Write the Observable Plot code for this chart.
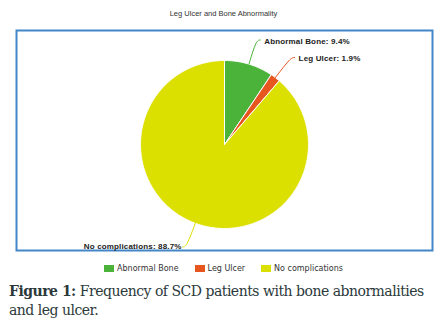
<!DOCTYPE html>
<html>
<head>
<meta charset="utf-8">
<script src="https://cdn.jsdelivr.net/npm/d3@7"></script>
<script src="https://cdn.jsdelivr.net/npm/@observablehq/plot@0.6"></script>
<style>
  html, body { margin: 0; padding: 0; background: #fff; }
  body { width: 447px; height: 323px; overflow: hidden; position: relative; font-family: "Liberation Sans", Arial, sans-serif; }
  #title { position: absolute; top: 9px; left: 0; width: 447px; text-align: center; font-size: 7.5px; color: #333; }
  #chart { position: absolute; left: 0; top: 0; }
  #chart svg text { letter-spacing: 0.15px; }
  #legend { position: absolute; top: 264px; left: 0; width: 447px; display: flex; justify-content: center; gap: 16px; font-family: "DejaVu Sans", sans-serif; font-size: 8px; color: #333; }
  .item { display: flex; align-items: center; gap: 3px; }
  .sw { width: 10px; height: 7px; display: inline-block; }
  #caption { position: absolute; top: 282px; left: 9px; width: 438px; font-family: "DejaVu Serif", serif; font-size: 14px; letter-spacing: -0.5px; line-height: 18.5px; color: #2c393b; white-space: nowrap; }
  #caption b { font-weight: bold; }
</style>
</head>
<body>
<div id="title">Leg Ulcer and Bone Abnormality</div>
<div id="chart"></div>
<div id="legend"></div>
<div id="caption"><b>Figure 1:</b> Frequency of SCD patients with bone abnormalities<br>and leg ulcer.</div>
<script>
const categories = ["Abnormal Bone", "Leg Ulcer", "No complications"];
const percents = [9.4, 1.9, 88.7];
const colors = ["#4cb33a", "#e8561f", "#dce000"];

// layout (pixels)
const W = 447, H = 258, mL = 16, mR = 15, mT = 30, mB = 8;
const cx = 224, cy = 144, R = 84;
const xDomain = [(mL - cx) / R, (W - mR - cx) / R];
const yDomain = [(cy - (H - mB)) / R, (cy - mT) / R];

// slice polygons from the values
const total = d3.sum(percents);
const slicePts = [];
const connPts = [];
const labels = [];
let acc = 0;
categories.forEach((cat, i) => {
  const a0 = acc / total * 2 * Math.PI;
  acc += percents[i];
  const a1 = acc / total * 2 * Math.PI;
  slicePts.push({cat, x: 0, y: 0});
  const n = Math.max(2, Math.ceil((a1 - a0) / (Math.PI / 180)));
  for (let k = 0; k <= n; k++) {
    const a = a0 + (a1 - a0) * k / n;
    slicePts.push({cat, x: Math.sin(a), y: Math.cos(a)});
  }
  slicePts.push({cat, x: 0, y: 0});
  const m = (a0 + a1) / 2;
  const side = Math.sin(m) >= 0 ? 1 : -1;
  const r2 = 1.3;
  const ex = Math.sin(m) * r2 + side * 4 / R, ey = Math.cos(m) * r2;
  connPts.push({cat, x: Math.sin(m), y: Math.cos(m)});
  connPts.push({cat, x: Math.sin(m) * r2, y: Math.cos(m) * r2});
  connPts.push({cat, x: ex, y: ey});
  labels.push({cat, x: ex, y: ey, side, text: `${cat}: ${percents[i]}%`});
});

const plot = Plot.plot({
  width: W, height: H,
  marginLeft: mL, marginRight: mR, marginTop: mT, marginBottom: mB,
  x: {domain: xDomain, axis: null},
  y: {domain: yDomain, axis: null},
  color: {domain: categories, range: colors},
  style: {background: "transparent", overflow: "visible"},
  marks: [
    Plot.frame({stroke: "#4286c8", strokeWidth: 2}),
    Plot.line(slicePts, {x: "x", y: "y", z: "cat", fill: "cat", stroke: "white", strokeWidth: 1, strokeLinejoin: "round", curve: "linear"}),
    Plot.line(connPts, {x: "x", y: "y", z: "cat", stroke: "cat", strokeWidth: 1, curve: "basis"}),
    Plot.text(labels.filter(d => d.side > 0), {x: "x", y: "y", text: "text", textAnchor: "start", dx: 4, dy: 1, fontSize: 8, fontWeight: "bold", fill: "#222", fontFamily: "Liberation Sans"}),
    Plot.text(labels.filter(d => d.side < 0), {x: "x", y: "y", text: "text", textAnchor: "end", dx: -1, dy: 0, fontSize: 8, fontWeight: "bold", fill: "#222", fontFamily: "Liberation Sans"})
  ]
});
document.getElementById("chart").appendChild(plot);

const legend = document.getElementById("legend");
categories.forEach((cat, i) => {
  const it = document.createElement("div");
  it.className = "item";
  const sw = document.createElement("span");
  sw.className = "sw";
  sw.style.background = colors[i];
  const t = document.createElement("span");
  t.textContent = cat;
  it.appendChild(sw); it.appendChild(t);
  legend.appendChild(it);
});
</script>
</body>
</html>
